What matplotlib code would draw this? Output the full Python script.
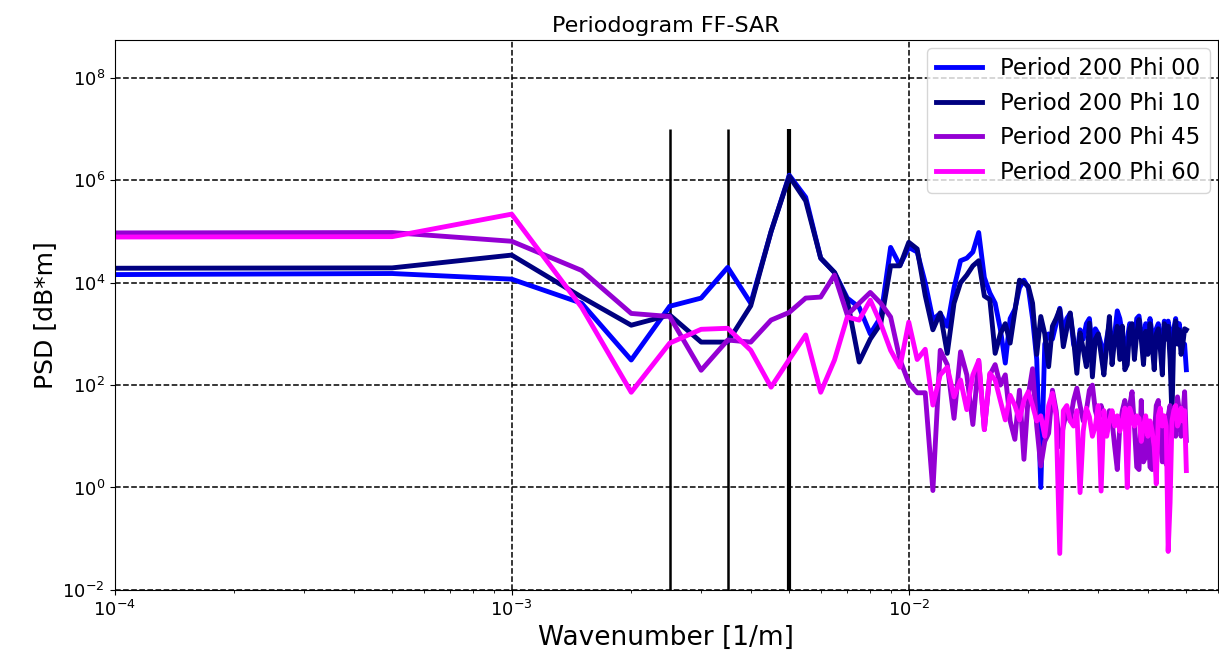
import numpy as np
import matplotlib
matplotlib.use('Agg')
import matplotlib.pyplot as plt
from matplotlib.ticker import NullLocator

# wavenumber grid: one point left of the axis, then 5e-4 steps up to 0.05
wavenumber = np.concatenate([[5e-5], np.arange(1, 101) * 5e-4])

# PSD values, as log10(PSD)
psd_phi00_log = [
    4.15, 4.18, 4.07, 3.6, 2.49, 3.54, 3.7, 4.3, 3.6, 5.0, 6.1,
    5.67, 4.48, 4.2, 3.7, 3.52, 3.0, 3.33, 4.69, 4.34, 4.69,
    4.6, 4.0, 3.28, 3.4, 3.15, 3.9, 4.43, 4.48, 4.6, 4.98,
    4.1, 3.8, 3.6, 3.1, 2.43, 3.3, 3.48, 3.9, 4.05, 3.9,
    3.3, 2.5, 0.0, 2.8, 3.0, 2.9, 3.2, 3.5, 3.0, 3.3,
    3.4, 2.8, 2.6, 3.08, 2.9, 3.2, 3.3, 2.7, 3.1, 3.0,
    2.8, 2.5, 2.9, 3.2, 2.6, 3.0, 3.45, 3.3, 3.0, 2.6,
    2.9, 3.2, 3.1, 2.8, 3.3, 3.35, 3.0, 2.7, 3.2, 2.9,
    3.3, 3.0, 2.7, 3.1, 3.2, 2.9, 2.6, 3.25, 3.15, 3.25,
    3.0, 2.6, 3.1, 3.3, 3.0, 3.2, 2.9, 2.7, 2.8, 2.3,
]
psd_phi10_log = [
    4.28, 4.29, 4.54, 3.72, 3.17, 3.37, 2.84, 2.84, 3.55, 5.0, 6.08,
    5.6, 4.48, 4.2, 3.66, 2.45, 2.9, 3.2, 4.33, 4.33, 4.79,
    4.66, 3.75, 3.08, 3.41, 2.62, 3.6, 4.0, 4.15, 4.33, 4.43,
    3.74, 3.67, 2.62, 3.0, 3.2, 2.82, 3.44, 4.05, 4.0, 3.93,
    3.6, 2.6, 3.34, 3.0, 2.36, 3.15, 3.3, 3.48, 2.75, 3.1,
    3.41, 2.9, 2.23, 3.02, 2.7, 2.36, 3.21, 2.16, 2.9, 3.0,
    2.6, 2.2, 2.75, 3.34, 2.4, 2.9, 3.15, 2.5, 3.15, 2.3,
    2.4, 3.1, 3.2, 2.5, 3.0, 3.28, 2.9, 2.4, 3.05, 2.6,
    3.2, 2.8, 2.3, 3.0, 3.1, 2.7, 2.2, 3.2, 2.9, 3.15,
    2.5, 1.38, 3.0, 3.25, 2.8, 3.08, 2.6, 2.8, 3.1, 3.08,
]
psd_phi45_log = [
    4.97, 4.98, 4.81, 4.24, 3.4, 3.34, 2.29, 2.88, 2.84, 3.27, 3.42,
    3.7, 3.72, 4.15, 3.37, 3.6, 3.81, 3.6, 3.33, 2.5, 2.04,
    1.85, 1.85, -0.06, 2.68, 2.4, 1.35, 2.65, 2.2, 1.23, 2.48,
    1.13, 2.2, 2.4, 2.0, 2.2, 1.3, 0.94, 1.9, 0.55, 1.8,
    2.32, 1.2, 0.42, 0.9, 1.06, 1.9, 1.5, 0.8, 1.2, 1.5,
    1.3, 1.7, 1.94, 1.6, 1.3, 1.5, 1.9, 2.0, 1.5, 1.3,
    1.6, 1.4, 1.1, 1.5, 1.3, 0.8, 0.35, 1.2, 1.5, 1.7,
    1.3, 1.6, 1.87, 1.2, 0.4, 0.35, 1.7, 0.5, 0.6, 1.3,
    0.4, 0.35, 1.0, 1.6, 1.7, 0.9, 0.5, 1.2, 0.45, 1.4,
    1.6, 1.2, 1.5, 1.0, 1.77, 1.5, 1.0, 1.4, 1.87, 0.92,
]
psd_phi60_log = [
    4.89, 4.9, 5.34, 3.52, 1.86, 2.82, 3.09, 3.11, 2.68, 1.96, 2.5,
    2.98, 1.86, 2.49, 3.33, 3.27, 3.66, 3.2, 2.68, 2.35, 3.23,
    2.5, 2.7, 1.61, 2.2, 2.35, 1.77, 2.1, 1.52, 2.2, 2.48,
    1.13, 2.23, 2.1, 1.7, 1.32, 1.8, 1.6, 1.32, 1.7, 1.87,
    1.6, 1.3, 1.4, 1.0, 1.6, 1.84, 1.4, -1.29, 1.5, 1.6,
    1.3, 1.2, 1.5, -0.1, 1.1, 1.55, 1.38, 1.0, 1.2, 1.6,
    -0.07, 1.5, 1.0, 1.3, 1.5, 1.2, 1.4, 1.1, 1.3, 1.55,
    0.0, 1.55, 1.4, 1.2, 1.4, 1.35, 0.9, 1.2, 1.4, 1.0,
    1.3, 1.1, 0.8, 0.07, 1.4, 1.55, 1.2, 1.4, 1.2, -1.25,
    -0.3, 1.3, 1.5, 1.6, 1.2, 1.3, 1.55, 1.3, 1.5, 0.33,
]

series_labels = ['Period 200 Phi 00', 'Period 200 Phi 10', 'Period 200 Phi 45', 'Period 200 Phi 60']
series_colors = ['#0000ff', '#000080', '#9400d3', '#ff00ff']

# reference wavenumbers marked with vertical lines
marker_k = [2.5e-3, 3.5e-3, 5e-3]
marker_width = [1.8, 1.8, 3.0]

fig = plt.figure(figsize=(12.19, 6.68), dpi=100)
ax = fig.add_axes([0.094, 0.117, 0.905, 0.823])

for vals, lab, col in zip([psd_phi00_log, psd_phi10_log, psd_phi45_log, psd_phi60_log],
                          series_labels, series_colors):
    ax.plot(wavenumber, 10 ** np.array(vals), color=col, lw=3.5, label=lab)

ax.vlines(marker_k, 1e-2, 1e7, colors='k', linewidths=marker_width, zorder=1)

ax.set_xscale('log')
ax.set_yscale('log')
ax.set_xlim(1e-4, 0.06)
ax.set_ylim(1e-2, 5.5e8)
ax.set_yticks([1e-2, 1e0, 1e2, 1e4, 1e6, 1e8])
ax.yaxis.set_minor_locator(NullLocator())
ax.grid(True, which='major', linestyle='--', color='k', lw=1.1)
ax.tick_params(labelsize=13)

ax.set_title('Periodogram FF-SAR', fontsize=16)
ax.set_xlabel('Wavenumber [1/m]', fontsize=19)
ax.set_ylabel('PSD [dB*m]', fontsize=18)
ax.legend(loc='upper right', fontsize=16.5, handlelength=2.0, borderaxespad=0.35)

plt.savefig('out.png')
plt.close()
